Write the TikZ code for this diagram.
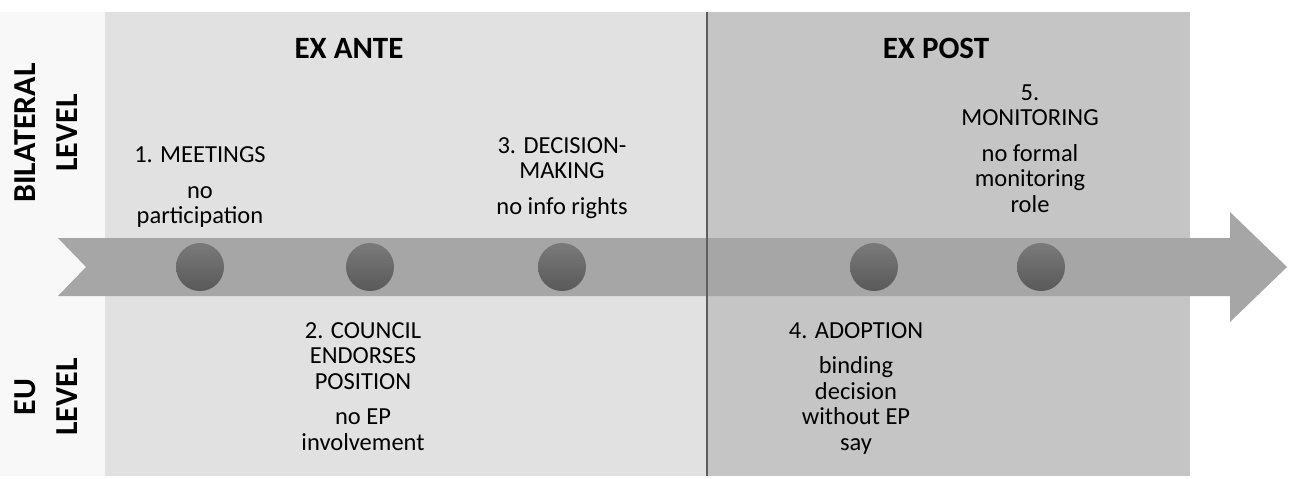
\documentclass[tikz,border=0pt]{standalone}
\usepackage{fontspec}
\setmainfont{Carlito}
\usetikzlibrary{positioning}
\definecolor{margingray}{HTML}{F8F8F8}
\definecolor{antegray}{HTML}{E1E1E1}
\definecolor{postgray}{HTML}{C5C5C5}
\definecolor{bandgray}{HTML}{A6A6A6}
\definecolor{dividergray}{HTML}{5E5E5E}
\definecolor{dottop}{HTML}{7A7A7A}
\definecolor{dotbot}{HTML}{595959}
\tikzset{
  phase/.style     = {font=\fontsize{31}{36}\selectfont\bfseries, inner sep=0pt},
  levelname/.style = {font=\fontsize{32}{42}\selectfont\bfseries, rotate=90,
                      align=center, inner sep=0pt},
  milestone/.style = {circle, minimum size=48pt, inner sep=0pt,
                      top color=dottop, bottom color=dotbot},
  stage/.style     = {font=\fontsize{24.5}{25.5}\selectfont, align=center, inner sep=0pt}
}
\begin{document}
\begin{tikzpicture}[x=1pt, y=-1pt]
  \useasboundingbox (0,0) rectangle (1293,479);
  % background panels
  \fill[white] (0,0) rectangle (1293,479);
  \fill[margingray] (0,12) rectangle (105,476);
  \fill[antegray] (105,12) rectangle (707,476);
  \fill[postgray] (707,12) rectangle (1190,476);
  % timeline band
  \fill[bandgray] (58,238) -- (1230,238) -- (1230,212) -- (1287,267)
    -- (1230,322) -- (1230,296) -- (58,296) -- (86,267) -- cycle;
  \draw[dividergray, line width=2pt] (707,12) -- (707,476);

  \node[phase] (ante) at (349,48) {EX ANTE};
  \node[phase] (post) at (936,48) {EX POST};
  \node[levelname] (bilat) at (46,133) {BILATERAL\\LEVEL};
  \node[levelname] (eulvl) at (46,397) {EU\\LEVEL};

  % milestones
  \node[milestone] (m1) at (200,267) {};
  \node[milestone] (m2) at (370,267) {};
  \node[milestone] (m3) at (562,267) {};
  \node[milestone] (m4) at (874,267) {};
  \node[milestone] (m5) at (1041,267) {};

  \node[stage, above=15pt of m1] (meet)
    {1. MEETINGS\\[10pt]no\\participation};
  \node[stage, below=31pt of m2, xshift=-7pt] (council)
    {2. COUNCIL\\ENDORSES\\POSITION\\[10pt]no EP\\involvement};
  \node[stage, above=24pt of m3] (decide)
    {3. DECISION-\\MAKING\\[10pt]no info rights};
  \node[stage, below=31pt of m4, xshift=-18pt] (adopt)
    {4. ADOPTION\\[10pt]binding\\decision\\without EP\\say};
  \node[stage, above=30pt of m5, xshift=-11pt] (monitor)
    {5.\\MONITORING\\[10pt]no formal\\monitoring\\role};
\end{tikzpicture}
\end{document}
